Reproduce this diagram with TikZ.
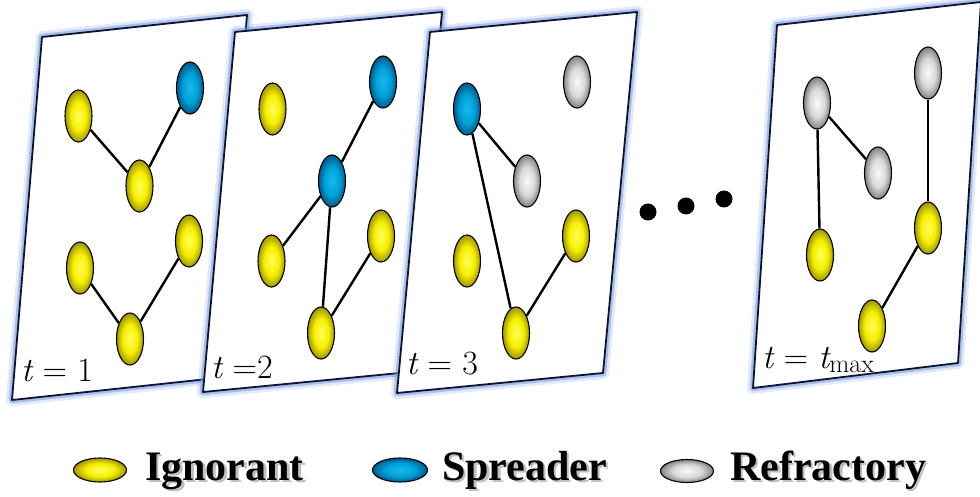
\documentclass[tikz,border=0pt]{standalone}
\usepackage{fontspec}
\newfontfamily\legfont{Liberation Serif}
\usetikzlibrary{shapes.geometric}
\definecolor{yc0}{RGB}{255,255,90}
\definecolor{yc1}{RGB}{245,238,0}
\definecolor{yc2}{RGB}{160,150,0}
\definecolor{bc0}{RGB}{20,185,235}
\definecolor{bc1}{RGB}{0,160,215}
\definecolor{bc2}{RGB}{0,90,140}
\definecolor{gc0}{RGB}{250,250,250}
\definecolor{gc1}{RGB}{215,215,215}
\definecolor{gc2}{RGB}{130,130,130}
\definecolor{glowc}{RGB}{110,150,230}
\definecolor{panelline}{RGB}{15,20,45}
\pgfdeclareradialshading{yelsh}{\pgfpoint{0bp}{0bp}}{color(0bp)=(yc0); color(14bp)=(yc1); color(25bp)=(yc2); color(50bp)=(yc2)}
\pgfdeclareradialshading{blush}{\pgfpoint{0bp}{0bp}}{color(0bp)=(bc0); color(14bp)=(bc1); color(25bp)=(bc2); color(50bp)=(bc2)}
\pgfdeclareradialshading{grysh}{\pgfpoint{0bp}{0bp}}{color(0bp)=(gc0); color(14bp)=(gc1); color(25bp)=(gc2); color(50bp)=(gc2)}
\newcommand\tit{{\itshape t}}
\newcommand\maxsub{\raisebox{-0.12em}{\fontsize{26}{28}\selectfont max}}
\tikzset{
  vtx/.style={ellipse, minimum width=27pt, minimum height=52pt, inner sep=0pt, draw=black, line width=1.1pt},
  yel/.style={vtx, shading=yelsh},
  blu/.style={vtx, shading=blush},
  gry/.style={vtx, shading=grysh},
  legyel/.style={yel, minimum width=53pt, minimum height=24pt},
  legblu/.style={blu, minimum width=55pt, minimum height=24pt},
  leggry/.style={gry, minimum width=53pt, minimum height=23pt},
  link/.style={draw=black, line width=2.4pt},
  glowA/.style={draw=glowc, line width=12pt, draw opacity=0.2, line join=round},
  glowB/.style={draw=glowc, line width=6.5pt, draw opacity=0.5, line join=round},
  panelst/.style={fill=white, draw=panelline, line width=1.8pt, line join=round},
  tlab/.style={anchor=base west, inner sep=0pt, font=\fontsize{34}{36}\selectfont},
  legtxt/.style={anchor=base west, inner sep=0pt, font=\legfont\bfseries\fontsize{42}{46}\selectfont},
  dotst/.style={circle, fill=black, minimum size=17pt, inner sep=0pt},
}
\newcommand\mypanel[4]{%
  \draw[glowA] #1 -- #2 -- #3 -- #4 -- cycle;
  \draw[glowB] #1 -- #2 -- #3 -- #4 -- cycle;
  \filldraw[panelst] #1 -- #2 -- #3 -- #4 -- cycle;
}
\begin{document}
\begin{tikzpicture}[x=1pt, y=-1pt]
\useasboundingbox[fill=white] (0,0) rectangle (980,497);
% panel 1
\mypanel{(42,37)}{(247,15)}{(217,378)}{(12,400)}
\node[yel] (a1) at (78.5,116) {};
\node[blu] (a2) at (190,88) {};
\node[yel] (a3) at (139.5,186) {};
\node[yel] (a4) at (80,268) {};
\node[yel] (a5) at (189,241) {};
\node[yel] (a6) at (130,339) {};
\draw[link] (a1) -- (a3);
\draw[link] (a3) -- (a2);
\draw[link] (a4) -- (a6);
\draw[link] (a6) -- (a5);
\node[tlab] (l1) at (21,381) {\tit{} = 1};
% panel 2
\mypanel{(235,32)}{(442,12)}{(410,372)}{(203,392)}
\node[yel] (b1) at (272.5,109) {};
\node[blu] (b2) at (383,82) {};
\node[blu] (b3) at (332,181) {};
\node[yel] (b4) at (271.5,261) {};
\node[yel] (b5) at (381,236) {};
\node[yel] (b6) at (321,333) {};
\draw[link] (b2) -- (b3);
\draw[link] (b3) -- (b4);
\draw[link] (b3) -- (b6);
\draw[link] (b6) -- (b5);
\node[tlab] (l2) at (211,378) {\tit{} =2};
% panel 3
\mypanel{(430,32)}{(637,12)}{(603,373)}{(397,393)}
\node[blu] (c1) at (467,109) {};
\node[gry] (c2) at (577,82) {};
\node[gry] (c3) at (527,181) {};
\node[yel] (c4) at (467,261) {};
\node[yel] (c5) at (576,236) {};
\node[yel] (c6) at (516,333) {};
\draw[link] (c1) -- (c3);
\draw[link] (c1) -- (c6);
\draw[link] (c6) -- (c5);
\node[tlab] (l3) at (406,374) {\tit{} = 3};
% dots
\node[dotst] (e1) at (648,212) {};
\node[dotst] (e2) at (686,206) {};
\node[dotst] (e3) at (724,199) {};
% panel 4
\mypanel{(777,25)}{(981,2)}{(958,363)}{(753,388)}
\node[gry] (d1) at (817,103) {};
\node[gry] (d2) at (928,73) {};
\node[gry] (d3) at (878,173) {};
\node[yel] (d4) at (820,255) {};
\node[yel] (d5) at (928,228) {};
\node[yel] (d6) at (872,326) {};
\draw[link] (d1) -- (d3);
\draw[link] (d1) -- (d4);
\draw[link] (d2) -- (d5);
\draw[link] (d5) -- (d6);
\node[tlab] (l4) at (762,368) {\tit{} = \tit\maxsub};
% legend
\node[legyel] (g1) at (100,470) {};
\node[legblu] (g2) at (400,470) {};
\node[leggry] (g3) at (687,471) {};
\node[legtxt, text=black!55, opacity=0.45] (s1) at (147.5,482.5) {Ignorant};
\node[legtxt, text=black!55, opacity=0.45] (s2) at (444.5,482.5) {Spreader};
\node[legtxt, text=black!55, opacity=0.45] (s3) at (732.5,482.5) {Refractory};
\node[legtxt] (t1) at (145,480) {Ignorant};
\node[legtxt] (t2) at (442,480) {Spreader};
\node[legtxt] (t3) at (730,480) {Refractory};
\end{tikzpicture}
\end{document}
